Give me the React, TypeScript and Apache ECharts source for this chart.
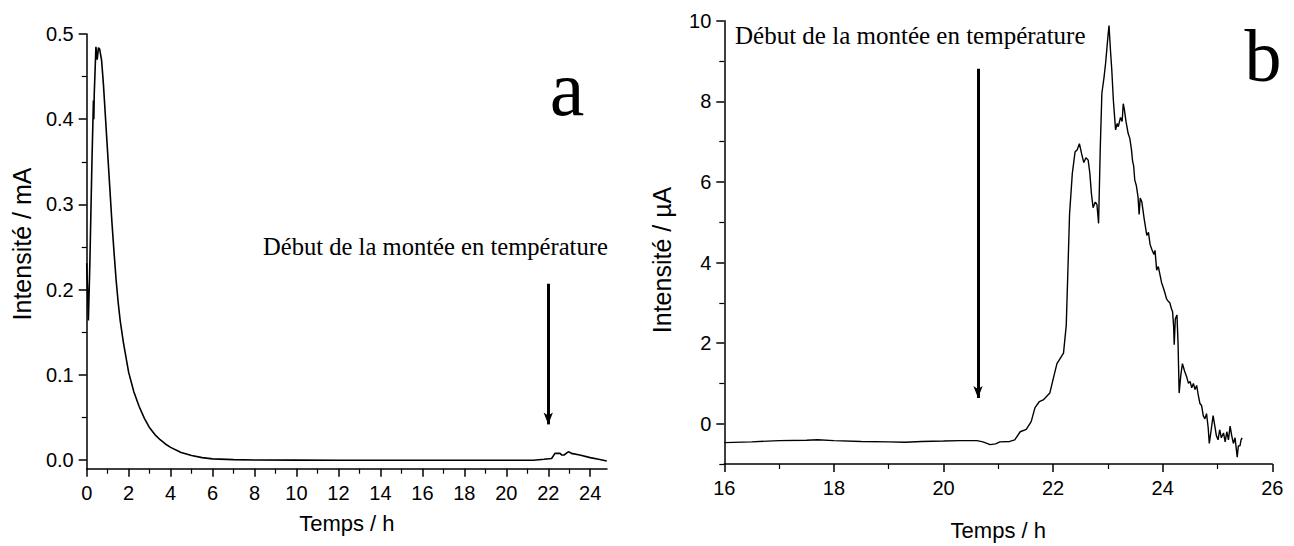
import React, { useEffect, useRef } from "react";
import * as echarts from "echarts";

// ---- Panel a : intensity (mA) vs time (h) ----
const leftTime = [
  0, 0.04, 0.08, 0.15, 0.25, 0.32, 0.34, 0.36, 0.44, 0.5, 0.56, 0.62, 0.71, 0.8, 0.9,
  1.0, 1.1, 1.2, 1.3, 1.4, 1.5, 1.6, 1.75, 2.0, 2.25, 2.5, 2.75, 3.0, 3.25, 3.5, 3.75,
  4.0, 4.5, 5.0, 5.5, 6.0, 7.0, 8.0, 10.0, 12.0, 21.3, 21.8, 22.16, 22.32, 22.56, 22.65,
  22.75, 22.9, 22.99, 23.1, 23.5, 24.0, 24.4, 24.79,
];
const leftCurrent = [
  0.231, 0.2, 0.164, 0.23, 0.35, 0.422, 0.4, 0.43, 0.485, 0.47, 0.484, 0.482, 0.469, 0.44, 0.4,
  0.36, 0.32, 0.28, 0.245, 0.212, 0.185, 0.163, 0.138, 0.103, 0.08, 0.063, 0.049, 0.038, 0.03, 0.024, 0.019,
  0.015, 0.009, 0.0055, 0.003, 0.0015, 0.0006, 0.0002, 0.0001, 0.0, 0.0, 0.001, 0.002, 0.008, 0.008, 0.006,
  0.006, 0.009, 0.0098, 0.008, 0.006, 0.003, 0.001, -0.001,
];

// ---- Panel b : intensity (µA) vs time (h) ----
const rightTime = [
  16.0, 16.5, 17.0, 17.5, 17.7, 18.0, 18.5, 19.0, 19.3, 19.6, 20.0, 20.3, 20.61, 20.72, 20.85,
  20.95, 21.03, 21.21, 21.3, 21.4, 21.51, 21.6, 21.67, 21.75, 21.82, 21.94, 22.0, 22.07, 22.19, 22.24,
  22.27, 22.3, 22.35, 22.4, 22.44, 22.48, 22.52, 22.56, 22.6, 22.64, 22.67, 22.7, 22.73, 22.77, 22.8,
  22.83, 22.86, 22.89, 22.93, 22.96, 23.0, 23.02, 23.05, 23.07, 23.1, 23.14, 23.17, 23.19, 23.23, 23.26,
  23.28, 23.3, 23.33, 23.37, 23.4, 23.43, 23.45, 23.47, 23.49, 23.52, 23.55, 23.57, 23.59, 23.62, 23.66,
  23.71, 23.74, 23.77, 23.8, 23.84, 23.86, 23.89, 23.92, 23.95, 23.98, 24.01, 24.04, 24.07, 24.1, 24.13,
  24.16, 24.18, 24.2, 24.21, 24.23, 24.26, 24.28, 24.3, 24.33, 24.36, 24.4, 24.44, 24.47, 24.5, 24.53,
  24.56, 24.59, 24.62, 24.65, 24.68, 24.71, 24.74, 24.77, 24.8, 24.83, 24.85, 24.88, 24.92, 24.95, 24.98,
  25.01, 25.04, 25.07, 25.11, 25.14, 25.17, 25.2, 25.23, 25.26, 25.29, 25.32, 25.36, 25.38, 25.41, 25.43,
  25.45,
];
const rightCurrent = [
  -0.47, -0.45, -0.42, -0.41, -0.4, -0.42, -0.44, -0.45, -0.46, -0.44, -0.43, -0.42, -0.42, -0.45, -0.52,
  -0.5, -0.45, -0.44, -0.4, -0.2, -0.14, 0.05, 0.4, 0.55, 0.59, 0.76, 1.1, 1.49, 1.75, 2.44,
  3.8, 5.19, 6.2, 6.74, 6.8, 6.95, 6.7, 6.48, 6.6, 6.54, 6.22, 5.7, 5.36, 5.5, 5.44,
  4.97, 6.8, 8.2, 8.6, 8.97, 9.6, 9.88, 9.2, 8.8, 8.02, 7.29, 7.45, 7.37, 7.6, 7.5,
  7.94, 7.8, 7.5, 7.2, 7.08, 6.8, 6.52, 6.4, 6.05, 5.9, 5.62, 5.19, 5.6, 5.5, 5.1,
  4.67, 4.75, 4.45, 4.33, 4.2, 4.3, 3.81, 3.9, 3.7, 3.5, 3.38, 3.25, 3.1, 3.04, 3.0,
  2.85, 2.78, 2.4, 1.96, 2.6, 2.7, 2.0, 0.76, 1.2, 1.49, 1.3, 1.15, 1.0, 1.05, 0.89,
  1.0, 0.85, 0.95, 0.7, 0.5, 0.45, 0.2, 0.12, 0.25, -0.1, -0.49, -0.2, 0.2, -0.05, -0.3,
  -0.4, -0.15, -0.35, -0.23, -0.45, -0.2, -0.4, -0.06, -0.3, -0.49, -0.35, -0.83, -0.55, -0.55, -0.4,
  -0.35,
];

// ---- tick values ----
const leftXMajor = [0, 2, 4, 6, 8, 10, 12, 14, 16, 18, 20, 22, 24];
const leftXMinor = [1, 3, 5, 7, 9, 11, 13, 15, 17, 19, 21, 23];
const leftYMajor = [0, 0.1, 0.2, 0.3, 0.4, 0.5];
const leftYMinor = [0.05, 0.15, 0.25, 0.35, 0.45];
const rightXMajor = [16, 18, 20, 22, 24, 26];
const rightXMinor = [17, 19, 21, 23, 25];
const rightYMajor = [0, 2, 4, 6, 8, 10];
const rightYMinor = [-1, 1, 3, 5, 7, 9];

// ---- annotations ----
const annotationText = "Début de la montée en température";
const leftArrow = [22, 0.207, 0.042];
const rightArrow = [20.63, 8.81, 0.64];
const xName = "Temps / h";
const leftYName = "Intensité / mA";
const rightYName = "Intensité / µA";

const SANS = "'Liberation Sans', Arial, sans-serif";
const SERIF = "'Liberation Serif', 'Times New Roman', serif";
const BLACK = "#000";

function axisPair(
  dim: "x" | "y",
  gridIndex: number,
  min: number,
  max: number,
  major: number[],
  minor: number[],
  labelFmt: (v: number) => string,
  extra: any = {}
) {
  const position = dim === "x" ? "bottom" : "left";
  const majorAxis = {
    type: "value",
    gridIndex,
    min,
    max,
    position,
    splitLine: { show: false },
    axisLine: { show: true, onZero: false, lineStyle: { color: BLACK, width: 1.5 } },
    axisTick: {
      show: true,
      inside: false,
      length: 8,
      customValues: major,
      lineStyle: { color: BLACK, width: 1.5 },
    },
    axisLabel: {
      show: true,
      customValues: major,
      color: BLACK,
      fontSize: 20,
      fontFamily: SANS,
      margin: dim === "x" ? 14 : 13,
      formatter: labelFmt,
      showMinLabel: true,
      showMaxLabel: true,
      hideOverlap: false,
    },
    ...extra,
  };
  const minorAxis = {
    type: "value",
    gridIndex,
    min,
    max,
    position,
    splitLine: { show: false },
    axisLine: { show: false, onZero: false },
    axisTick: {
      show: true,
      inside: false,
      length: 5,
      customValues: minor,
      lineStyle: { color: BLACK, width: 1.2 },
    },
    axisLabel: { show: false },
  };
  return [majorAxis, minorAxis];
}

export default function App() {
  const ref = useRef<HTMLDivElement>(null);

  useEffect(() => {
    if (!ref.current) return;
    const chart = echarts.init(ref.current, undefined, { renderer: "svg" });

    const leftData = leftTime.map((t, i) => [t, leftCurrent[i]]);
    const rightData = rightTime.map((t, i) => [t, rightCurrent[i]]);

    const xAxes = [
      ...axisPair("x", 0, 0, 24.8, leftXMajor, leftXMinor, (v) => String(v), {
        name: xName,
        nameLocation: "middle",
        nameGap: 44,
        nameTextStyle: { color: BLACK, fontSize: 22, fontFamily: SANS },
      }),
      ...axisPair("x", 1, 16, 26, rightXMajor, rightXMinor, (v) => String(v), {
        name: xName,
        nameLocation: "middle",
        nameGap: 55,
        nameTextStyle: { color: BLACK, fontSize: 22, fontFamily: SANS },
      }),
    ];
    const yAxes = [
      ...axisPair("y", 0, -0.01, 0.5, leftYMajor, leftYMinor, (v) => v.toFixed(1)),
      ...axisPair("y", 1, -1, 10, rightYMajor, rightYMinor, (v) => String(v)),
    ];

    const arrowMark = (a: number[]) => ({
      silent: true,
      symbol: ["none", "arrow"],
      symbolSize: [7, 12],
      label: { show: false },
      emphasis: { disabled: true },
      lineStyle: { color: BLACK, width: 3, type: "solid" },
      data: [[{ coord: [a[0], a[1]] }, { coord: [a[0], a[2]] }]],
    });

    chart.setOption({
      animation: false,
      backgroundColor: "#fff",
      grid: [
        { left: 86.7, top: 34, width: 520.3, height: 434.7, containLabel: false },
        { left: 724.3, top: 20.7, width: 548, height: 446.3, containLabel: false },
      ],
      xAxis: xAxes,
      yAxis: yAxes,
      series: [
        {
          type: "line",
          xAxisIndex: 0,
          yAxisIndex: 0,
          data: leftData,
          showSymbol: false,
          symbol: "none",
          lineStyle: { color: BLACK, width: 1.6 },
          markLine: arrowMark(leftArrow),
        },
        {
          type: "line",
          xAxisIndex: 2,
          yAxisIndex: 2,
          data: rightData,
          showSymbol: false,
          symbol: "none",
          lineStyle: { color: BLACK, width: 1.4 },
          markLine: arrowMark(rightArrow),
        },
      ],
      graphic: [
        {
          type: "text",
          x: 22,
          y: 244,
          rotation: Math.PI / 2,
          style: {
            text: leftYName,
            fill: BLACK,
            font: `25px ${SANS}`,
            textAlign: "center",
            textVerticalAlign: "middle",
          },
        },
        {
          type: "text",
          x: 662,
          y: 260,
          rotation: Math.PI / 2,
          style: {
            text: rightYName,
            fill: BLACK,
            font: `25px ${SANS}`,
            textAlign: "center",
            textVerticalAlign: "middle",
          },
        },
        {
          type: "text",
          x: 263,
          y: 246,
          style: {
            text: annotationText,
            fill: BLACK,
            font: `24.6px ${SERIF}`,
            textAlign: "left",
            textVerticalAlign: "middle",
          },
        },
        {
          type: "text",
          x: 735,
          y: 35,
          style: {
            text: annotationText,
            fill: BLACK,
            font: `25px ${SERIF}`,
            textAlign: "left",
            textVerticalAlign: "middle",
          },
        },
        {
          type: "text",
          x: 567,
          y: 88,
          style: {
            text: "a",
            fill: BLACK,
            font: `78px ${SERIF}`,
            textAlign: "center",
            textVerticalAlign: "middle",
          },
        },
        {
          type: "text",
          x: 1263,
          y: 56,
          style: {
            text: "b",
            fill: BLACK,
            font: `74px ${SERIF}`,
            textAlign: "center",
            textVerticalAlign: "middle",
          },
        },
      ],
    });

    return () => chart.dispose();
  }, []);

  return (
    <div
      ref={ref}
      style={{ position: "absolute", left: 0, top: 0, width: 1294, height: 546, background: "#fff" }}
    />
  );
}
